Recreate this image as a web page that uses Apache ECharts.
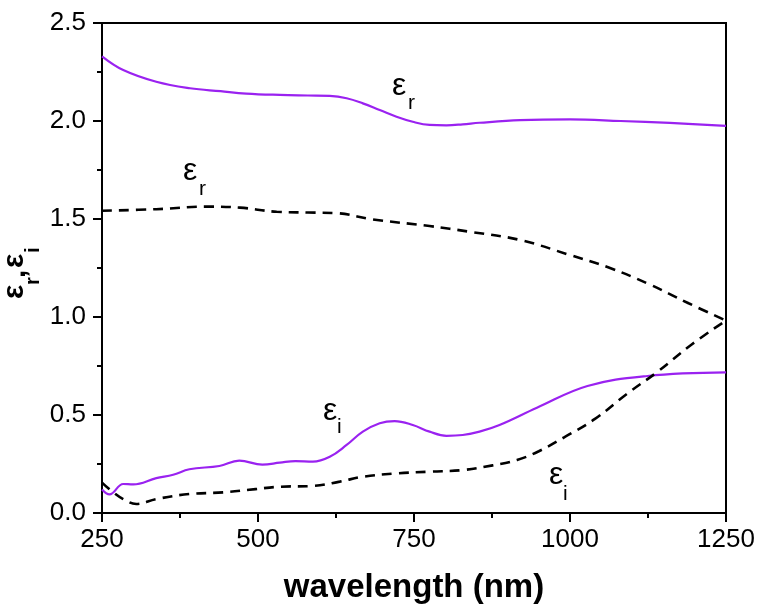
<!DOCTYPE html>
<html>
<head>
<meta charset="utf-8">
<script src="https://cdn.jsdelivr.net/npm/echarts@6/dist/echarts.min.js"></script>
<style>
  html, body { margin: 0; padding: 0; background: #fff; }
  #main { width: 764px; height: 613px; }
</style>
</head>
<body>
<div id="main"></div>
<script>
// 曲线数据（波长 nm / 数值）
const wlRUpper = [250, 284, 337, 391, 440, 481, 535, 580, 615, 642, 668, 695, 722, 748, 775, 802, 828, 855, 920, 1000, 1081, 1160, 1250]
const epsRUpper = [2.33, 2.26, 2.20, 2.167, 2.152, 2.14, 2.133, 2.13, 2.128, 2.116, 2.09, 2.056, 2.022, 1.996, 1.98, 1.978, 1.983, 1.991, 2.004, 2.008, 2.0, 1.99, 1.975]

const wlRDash = [250, 337, 417, 471, 530, 580, 625, 684, 775, 839, 920, 1000, 1060, 1125, 1190, 1250]
const epsRDash = [1.542, 1.55, 1.563, 1.558, 1.537, 1.533, 1.53, 1.498, 1.464, 1.435, 1.393, 1.316, 1.255, 1.17, 1.07, 0.982]

const wlIPurple = [250, 262, 284, 300, 337, 364, 390, 438, 470, 507, 535, 560, 588, 615, 642, 668, 695, 719, 748, 775, 802, 828, 855, 887, 947, 1028, 1124, 1250]
const epsIPurple = [0.12, 0.095, 0.148, 0.146, 0.178, 0.195, 0.223, 0.24, 0.267, 0.247, 0.257, 0.265, 0.262, 0.287, 0.347, 0.415, 0.458, 0.469, 0.449, 0.415, 0.394, 0.398, 0.415, 0.449, 0.537, 0.648, 0.699, 0.717]

const wlIDash = [250, 265, 284, 305, 337, 390, 444, 496, 535, 588, 631, 668, 722, 775, 828, 876, 915, 950, 990, 1040, 1090, 1140, 1195, 1250]
const epsIDash = [0.155, 0.113, 0.071, 0.046, 0.071, 0.097, 0.105, 0.122, 0.134, 0.138, 0.16, 0.185, 0.202, 0.211, 0.219, 0.243, 0.27, 0.315, 0.385, 0.48, 0.605, 0.72, 0.86, 0.982]

const PURPLE = '#9a22f0'
const FONT = 'Liberation Sans, Arial, sans-serif'

function pairs(xs, ys) {
  return xs.map((x, i) => [x, ys[i]])
}

const chart = echarts.init(document.getElementById('main'))

const solid = { color: PURPLE, width: 2.2 }
const dashed = { color: '#000', width: 2.6, type: [10, 7] }

// 曲线旁边的 ε 标注
function epsLabel(x, y, sub, sx, sy) {
  return [
    { type: 'text', left: x, top: y - 18, style: { text: 'ε', font: '32px ' + FONT, fill: '#000' } },
    { type: 'text', left: sx, top: sy - 11, style: { text: sub, font: '21px ' + FONT, fill: '#000' } }
  ]
}

const tickLine = { color: '#000', width: 2 }

// 次刻度：单独一根不带标签的轴
function minorAxis(pos, min, max, step) {
  return {
    type: 'value', position: pos, min: min, max: max, interval: step,
    axisLine: { show: false },
    axisTick: { show: true, inside: false, length: 5, lineStyle: tickLine },
    axisLabel: { show: false },
    splitLine: { show: false }
  }
}

const option = {
  animation: false,
  grid: {
    left: 102, right: 38, top: 23, bottom: 100,
    show: true, borderColor: '#000', borderWidth: 2
  },
  xAxis: [{
    type: 'value',
    position: 'bottom',
    min: 250, max: 1250, interval: 250,
    name: 'wavelength (nm)',
    nameLocation: 'middle',
    nameGap: 58,
    nameTextStyle: { fontFamily: FONT, fontWeight: 'bold', fontSize: 33, color: '#000' },
    axisLine: { lineStyle: { color: '#000', width: 2 } },
    axisTick: { inside: false, length: 9, lineStyle: tickLine },
    splitLine: { show: false },
    axisLabel: { fontFamily: FONT, fontSize: 26, color: '#000', margin: 14, formatter: v => String(v) }
  }, minorAxis('bottom', 250, 1250, 125)],
  yAxis: [{
    type: 'value',
    position: 'left',
    min: 0, max: 2.5, interval: 0.5,
    axisLine: { show: true, lineStyle: { color: '#000', width: 2 } },
    axisTick: { show: true, inside: false, length: 9, lineStyle: tickLine },
    splitLine: { show: false },
    axisLabel: {
      fontFamily: FONT, fontSize: 26, color: '#000', margin: 16,
      formatter: v => v.toFixed(1)
    }
  }, minorAxis('left', 0, 2.5, 0.25)],
  series: [
    { type: 'line', data: pairs(wlRUpper, epsRUpper), smooth: 0.4, showSymbol: false, lineStyle: solid },
    { type: 'line', data: pairs(wlRDash, epsRDash), smooth: 0.4, showSymbol: false, lineStyle: dashed },
    { type: 'line', data: pairs(wlIPurple, epsIPurple), smooth: 0.4, showSymbol: false, lineStyle: solid },
    { type: 'line', data: pairs(wlIDash, epsIDash), smooth: 0.4, showSymbol: false, lineStyle: dashed }
  ],
  graphic: [
    ...epsLabel(392, 88, 'r', 408, 104),
    ...epsLabel(183, 173, 'r', 199, 190),
    ...epsLabel(323, 413, 'i', 337, 428),
    ...epsLabel(549, 477, 'i', 563, 495),
    // y 轴标题（旋转 90°）
    {
      type: 'group', x: 27, y: 270, rotation: Math.PI / 2,
      children: [
        { type: 'text', x: -29, y: -12, style: { text: 'ε', font: 'bold 30px ' + FONT, fill: '#000', verticalAlign: 'middle' } },
        { type: 'text', x: -15, y: 6, style: { text: 'r', font: 'bold 20px ' + FONT, fill: '#000', verticalAlign: 'middle' } },
        { type: 'text', x: -8, y: -10, style: { text: ',', font: 'bold 30px ' + FONT, fill: '#000', verticalAlign: 'middle' } },
        { type: 'text', x: 2, y: -12, style: { text: 'ε', font: 'bold 30px ' + FONT, fill: '#000', verticalAlign: 'middle' } },
        { type: 'text', x: 17, y: 6, style: { text: 'i', font: 'bold 20px ' + FONT, fill: '#000', verticalAlign: 'middle' } }
      ]
    }
  ]
}

chart.setOption(option)
</script>
</body>
</html>
